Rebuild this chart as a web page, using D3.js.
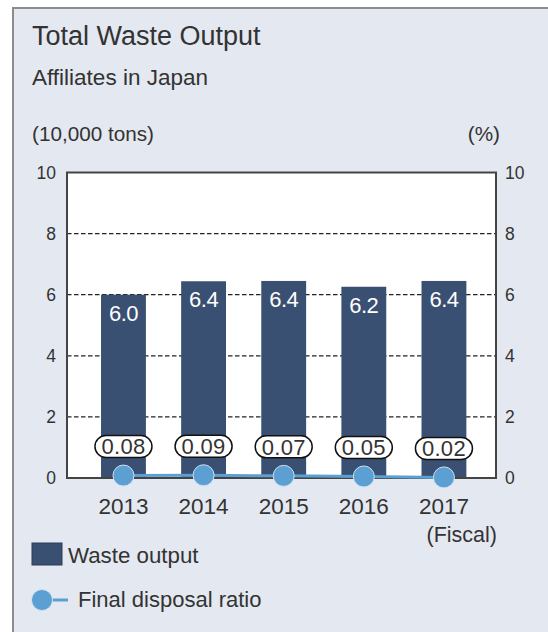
<!DOCTYPE html>
<html>
<head>
<meta charset="utf-8">
<script src="https://cdn.jsdelivr.net/npm/d3@7"></script>
<style>
  html, body { margin: 0; padding: 0; background: #ffffff; }
  svg { display: block; font-family: "Liberation Sans", Arial, sans-serif; }
</style>
</head>
<body>
<svg id="chart" width="548" height="632"></svg>
<script>
const years = ["2013", "2014", "2015", "2016", "2017"];
const wasteOutput = [6.0, 6.44, 6.45, 6.26, 6.45];
const wasteLabels = ["6.0", "6.4", "6.4", "6.2", "6.4"];
const disposalRatio = [0.08, 0.09, 0.07, 0.05, 0.02];
const ratioLabels = ["0.08", "0.09", "0.07", "0.05", "0.02"];
const leftTicks = [0, 2, 4, 6, 8, 10];
const rightTicks = [0, 2, 4, 6, 8, 10];

const barColor = "#3a5073";
const lineColor = "#5b9fd3";
const textColor = "#333333";

const svg = d3.select("#chart");

// panel
svg.append("rect").attr("x", 13).attr("y", 8).attr("width", 540).attr("height", 630)
  .attr("fill", "#e4e8f0").attr("stroke", "#8c8c8c").attr("stroke-width", 2);

// titles
svg.append("text").attr("x", 32).attr("y", 45).attr("font-size", 27).attr("fill", textColor)
  .text("Total Waste Output");
svg.append("text").attr("x", 32).attr("y", 85).attr("font-size", 22.5).attr("fill", textColor)
  .text("Affiliates in Japan");
svg.append("text").attr("x", 32).attr("y", 141).attr("font-size", 20.7).attr("fill", textColor)
  .text("(10,000 tons)");
svg.append("text").attr("x", 500).attr("y", 141).attr("font-size", 20.7).attr("fill", textColor)
  .attr("text-anchor", "end").text("(%)");

const plot = { left: 67, right: 496, top: 172.5, bottom: 478 };

const x = d3.scaleBand().domain(years).range([83.4, 484]).paddingInner(0.44).paddingOuter(0.22);
const yL = d3.scaleLinear().domain([0, 10]).range([plot.bottom, plot.top]);
const yR = d3.scaleLinear().domain([0, 10]).range([plot.bottom, plot.top]);

// plot background
svg.append("rect").attr("x", plot.left).attr("y", plot.top)
  .attr("width", plot.right - plot.left).attr("height", plot.bottom - plot.top)
  .attr("fill", "#ffffff");

// gridlines
svg.append("g").selectAll("line").data(leftTicks.filter(d => d > 0 && d < 10)).join("line")
  .attr("x1", plot.left).attr("x2", plot.right)
  .attr("y1", d => yL(d)).attr("y2", d => yL(d))
  .attr("stroke", "#222").attr("stroke-width", 1.2).attr("stroke-dasharray", "4.5,2.5");

// bars
svg.append("g").selectAll("rect").data(years).join("rect")
  .attr("x", d => x(d)).attr("width", x.bandwidth())
  .attr("y", (d, i) => yL(wasteOutput[i]))
  .attr("height", (d, i) => yL(0) - yL(wasteOutput[i]))
  .attr("fill", barColor);

// bar labels
svg.append("g").selectAll("text").data(years).join("text")
  .attr("x", d => x(d) + x.bandwidth() / 2)
  .attr("y", (d, i) => yL(wasteOutput[i]) + 26)
  .attr("text-anchor", "middle").attr("font-size", 22).attr("fill", "#ffffff")
  .attr("letter-spacing", -0.5)
  .text((d, i) => wasteLabels[i]);

// frame
svg.append("rect").attr("x", plot.left).attr("y", plot.top)
  .attr("width", plot.right - plot.left).attr("height", plot.bottom - plot.top)
  .attr("fill", "none").attr("stroke", "#444").attr("stroke-width", 2);

// axes (labels only)
const axL = d3.axisLeft(yL).tickValues(leftTicks).tickSize(0).tickPadding(11).tickFormat(d3.format("d"));
const gL = svg.append("g").attr("transform", `translate(${plot.left},0)`).call(axL);
gL.select(".domain").remove();
gL.selectAll("text").attr("font-size", 17.5).attr("fill", textColor).attr("font-family", "Liberation Sans, Arial, sans-serif");

const axR = d3.axisRight(yR).tickValues(rightTicks).tickSize(0).tickPadding(9).tickFormat(d3.format("d"));
const gR = svg.append("g").attr("transform", `translate(${plot.right},0)`).call(axR);
gR.select(".domain").remove();
gR.selectAll("text").attr("font-size", 17.5).attr("fill", textColor).attr("font-family", "Liberation Sans, Arial, sans-serif");

const axB = d3.axisBottom(x).tickSize(0).tickPadding(20);
const gB = svg.append("g").attr("transform", `translate(0,${plot.bottom})`).call(axB);
gB.select(".domain").remove();
gB.selectAll("text").attr("font-size", 22.5).attr("fill", textColor).attr("font-family", "Liberation Sans, Arial, sans-serif");

svg.append("text").attr("x", 497).attr("y", 542).attr("font-size", 21.5).attr("fill", textColor)
  .attr("text-anchor", "end").text("(Fiscal)");

// ratio line
const line = d3.line().x((d, i) => x(years[i]) + x.bandwidth() / 2).y(d => yR(d));
svg.append("path").datum(disposalRatio).attr("d", line)
  .attr("fill", "none").attr("stroke", lineColor).attr("stroke-width", 3);

svg.append("g").selectAll("circle").data(disposalRatio).join("circle")
  .attr("cx", (d, i) => x(years[i]) + x.bandwidth() / 2).attr("cy", d => yR(d))
  .attr("r", 10.5).attr("fill", lineColor).attr("stroke", "#cfe2f2").attr("stroke-width", 1);

// ratio labels (pills)
const pills = svg.append("g").selectAll("g").data(disposalRatio).join("g")
  .attr("transform", (d, i) => `translate(${x(years[i]) + x.bandwidth() / 2},${yR(d) - 29})`);
pills.append("rect").attr("x", -28.5).attr("y", -11).attr("width", 57).attr("height", 22)
  .attr("rx", 11).attr("ry", 11).attr("fill", "#ffffff").attr("stroke", "#111").attr("stroke-width", 1.5);
pills.append("text").attr("text-anchor", "middle").attr("y", 7.8).attr("font-size", 22)
  .attr("fill", textColor).attr("letter-spacing", 0.3)
  .text((d, i) => ratioLabels[i]);

// legend
svg.append("rect").attr("x", 32).attr("y", 543).attr("width", 30).attr("height", 22)
  .attr("fill", barColor).attr("stroke", "#2c3d58").attr("stroke-width", 1);
svg.append("text").attr("x", 68).attr("y", 563).attr("font-size", 22.3).attr("fill", textColor)
  .text("Waste output");
svg.append("line").attr("x1", 42).attr("x2", 68).attr("y1", 600).attr("y2", 600)
  .attr("stroke", lineColor).attr("stroke-width", 3);
svg.append("circle").attr("cx", 42).attr("cy", 600).attr("r", 10.5)
  .attr("fill", lineColor).attr("stroke", "#cfe2f2").attr("stroke-width", 1);
svg.append("text").attr("x", 78).attr("y", 607).attr("font-size", 22).attr("fill", textColor)
  .text("Final disposal ratio");
</script>
</body>
</html>
